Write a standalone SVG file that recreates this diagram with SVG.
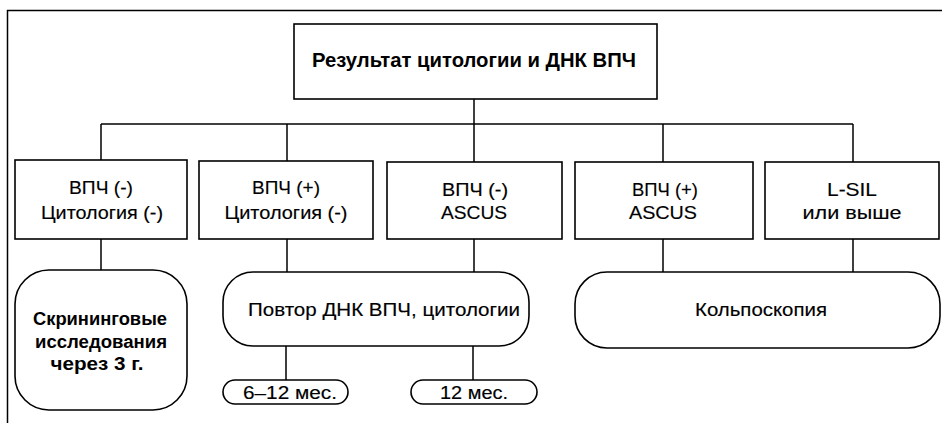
<svg xmlns="http://www.w3.org/2000/svg" width="942" height="425" viewBox="0 0 942 425">
<style>
  .box { fill: #fff; stroke: #000; stroke-width: 1.6; }
  .ln { stroke: #000; stroke-width: 1.5; fill: none; }
  text { font-family: "Liberation Sans", Arial, sans-serif; fill: #000; text-anchor: middle; }
  .t { font-size: 18px; stroke: #000; stroke-width: 0.15; }
  .b { font-weight: bold; }
</style>
<rect width="942" height="425" fill="#fff"/>
<g id="frame">
  <path class="ln" d="M7.5 423 V10.5 H942"/>
</g>
<g id="connectors">
  <path class="ln" d="M474 99 V124"/>
  <path class="ln" d="M101 124 H853"/>
  <path class="ln" d="M101 124 V160 M287 124 V161 M474 124 V162 M663 124 V162 M853 124 V162"/>
  <path class="ln" d="M101 239 V270"/>
  <path class="ln" d="M287 239 V272 M474 239 V272"/>
  <path class="ln" d="M663 239 V272 M853 239 V272"/>
  <path class="ln" d="M286 346 V380 M473 346 V380"/>
</g>
<g id="root">
  <rect class="box" x="294" y="24" width="363" height="75"/>
  <text class="b" x="474" y="67" font-size="20" textLength="324" lengthAdjust="spacingAndGlyphs">Результат цитологии и ДНК ВПЧ</text>
</g>
<g id="n1">
  <rect class="box" x="15" y="160" width="172" height="79"/>
  <text class="t" x="101" y="194" textLength="64" lengthAdjust="spacingAndGlyphs">ВПЧ (-)</text>
  <text class="t" x="102" y="219" textLength="122" lengthAdjust="spacingAndGlyphs">Цитология (-)</text>
</g>
<g id="n2">
  <rect class="box" x="199" y="161" width="174" height="78"/>
  <text class="t" x="286" y="194" textLength="68" lengthAdjust="spacingAndGlyphs">ВПЧ (+)</text>
  <text class="t" x="286" y="219" textLength="123" lengthAdjust="spacingAndGlyphs">Цитология (-)</text>
</g>
<g id="n3">
  <rect class="box" x="387" y="162" width="175" height="77"/>
  <text class="t" x="475" y="196" textLength="66" lengthAdjust="spacingAndGlyphs">ВПЧ (-)</text>
  <text class="t" x="474" y="219" textLength="66" lengthAdjust="spacingAndGlyphs">ASCUS</text>
</g>
<g id="n4">
  <rect class="box" x="575" y="162" width="178" height="77"/>
  <text class="t" x="665" y="196" textLength="66" lengthAdjust="spacingAndGlyphs">ВПЧ (+)</text>
  <text class="t" x="663" y="219" textLength="68" lengthAdjust="spacingAndGlyphs">ASCUS</text>
</g>
<g id="n5">
  <rect class="box" x="765" y="162" width="174" height="77"/>
  <text class="t" x="852" y="196" textLength="50" lengthAdjust="spacingAndGlyphs">L-SIL</text>
  <text class="t" x="852" y="219" textLength="99" lengthAdjust="spacingAndGlyphs">или выше</text>
</g>
<g id="screening">
  <rect class="box" x="15" y="270" width="172" height="140" rx="34" ry="34"/>
  <text class="b" x="100" y="325" font-size="18" textLength="134" lengthAdjust="spacingAndGlyphs">Скрининговые</text>
  <text class="b" x="101" y="348" font-size="18" textLength="132" lengthAdjust="spacingAndGlyphs">исследования</text>
  <text class="b" x="97" y="370" font-size="18" textLength="93" lengthAdjust="spacingAndGlyphs">через 3 г.</text>
</g>
<g id="repeat">
  <rect class="box" x="223" y="272" width="306" height="74" rx="30" ry="30"/>
  <text class="t" x="384" y="316" font-size="20" textLength="272" lengthAdjust="spacingAndGlyphs">Повтор ДНК ВПЧ, цитологии</text>
</g>
<g id="colpo">
  <rect class="box" x="575" y="272" width="365" height="76" rx="32" ry="32"/>
  <text class="t" x="761" y="316" font-size="20" textLength="132" lengthAdjust="spacingAndGlyphs">Кольпоскопия</text>
</g>
<g id="m6_12">
  <rect class="box" x="223" y="380" width="125" height="24" rx="12" ry="12"/>
  <text class="t" x="290" y="399" font-size="18" textLength="94" lengthAdjust="spacingAndGlyphs">6–12 мес.</text>
</g>
<g id="m12">
  <rect class="box" x="411" y="380" width="126" height="24" rx="12" ry="12"/>
  <text class="t" x="474" y="399" font-size="18" textLength="68" lengthAdjust="spacingAndGlyphs">12 мес.</text>
</g>
</svg>
